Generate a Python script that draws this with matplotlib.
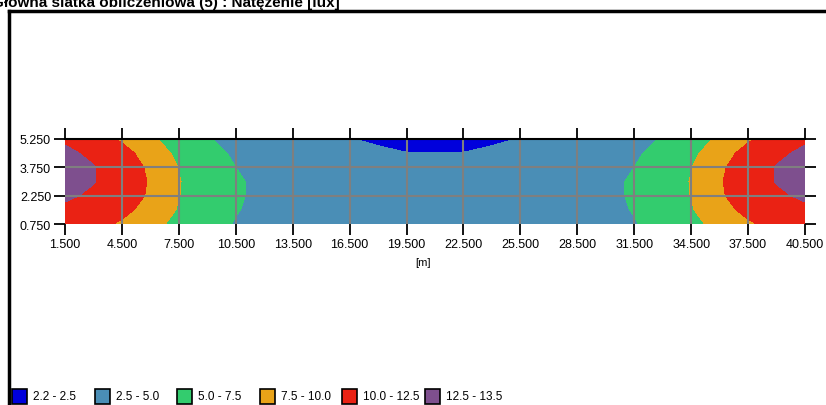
import numpy as np
import matplotlib.pyplot as plt
from matplotlib.patches import Rectangle
from matplotlib.lines import Line2D
from matplotlib.ticker import FormatStrFormatter

plt.rcParams['font.family'] = ['Liberation Sans', 'DejaVu Sans']

# siatka punktow obliczeniowych [m]
x_m = [1.5, 3.0, 4.5, 6.0, 7.5, 9.0, 10.5, 12.0, 13.5, 15.0, 16.5, 18.0, 19.5, 21.0,
       22.5, 24.0, 25.5, 27.0, 28.5, 30.0, 31.5, 33.0, 34.5, 36.0, 37.5, 39.0, 40.5]
y_m = [0.75, 1.5, 2.25, 3.0, 3.75, 4.5, 5.25]

# natezenie [lux], wiersz = y
lux_075 = [11.2, 10.7, 9.7, 8.3, 6.8, 5.6, 4.9, 4.3, 3.9, 3.6, 3.3, 3.1, 3.0, 2.95,
           3.0, 3.1, 3.3, 3.6, 3.9, 4.3, 4.9, 5.6, 6.8, 8.3, 9.7, 10.7, 11.2]
lux_150 = [12.0, 11.3, 10.6, 9.2, 7.3, 6.0, 5.1, 4.5, 4.1, 3.8, 3.5, 3.3, 3.2, 3.15,
           3.2, 3.3, 3.5, 3.8, 4.1, 4.5, 5.1, 6.0, 7.3, 9.2, 10.6, 11.3, 12.0]
lux_225 = [12.9, 12.1, 11.2, 9.7, 7.55, 6.3, 5.2, 4.6, 4.2, 3.9, 3.6, 3.4, 3.3, 3.25,
           3.3, 3.4, 3.6, 3.9, 4.2, 4.6, 5.2, 6.3, 7.55, 9.7, 11.2, 12.1, 12.9]
lux_300 = [13.3, 12.6, 11.4, 9.8, 7.6, 6.3, 5.2, 4.6, 4.2, 3.9, 3.6, 3.4, 3.3, 3.25,
           3.3, 3.4, 3.6, 3.9, 4.2, 4.6, 5.2, 6.3, 7.6, 9.8, 11.4, 12.6, 13.3]
lux_375 = [13.3, 12.6, 11.3, 9.6, 7.45, 6.1, 5.0, 4.5, 4.1, 3.8, 3.5, 3.3, 3.2, 3.15,
           3.2, 3.3, 3.5, 3.8, 4.1, 4.5, 5.0, 6.1, 7.45, 9.6, 11.3, 12.6, 13.3]
lux_450 = [12.9, 12.1, 10.8, 9.0, 6.9, 5.7, 4.7, 4.1, 3.7, 3.4, 3.1, 2.72, 2.52, 2.52,
           2.52, 2.72, 3.1, 3.4, 3.7, 4.1, 4.7, 5.7, 6.9, 9.0, 10.8, 12.1, 12.9]
lux_525 = [12.2, 11.0, 9.7, 8.0, 6.1, 5.15, 4.3, 3.7, 3.3, 2.9, 2.55, 2.3, 2.22, 2.22,
           2.22, 2.3, 2.55, 2.9, 3.3, 3.7, 4.3, 5.15, 6.1, 8.0, 9.7, 11.0, 12.2]

levels = [2.2, 2.5, 5.0, 7.5, 10.0, 12.5, 13.5]
level_labels = ['2.2 - 2.5', '2.5 - 5.0', '5.0 - 7.5', '7.5 - 10.0', '10.0 - 12.5', '12.5 - 13.5']
level_colors = ['#0000DC', '#4A8EB6', '#33CC6E', '#E9A318', '#EA2214', '#7E4F8E']

x_ticks = [1.5, 4.5, 7.5, 10.5, 13.5, 16.5, 19.5, 22.5, 25.5, 28.5, 31.5, 34.5, 37.5, 40.5]
y_ticks = [0.75, 2.25, 3.75, 5.25]

title = 'Główna siatka obliczeniowa (5) : Natężenie [lux]'

W, H = 826, 406
fig = plt.figure(figsize=(W / 100, H / 100), dpi=100)
ax = fig.add_axes([65 / W, 1 - 225 / H, 740 / W, 85 / H])

lux = np.array([lux_075, lux_150, lux_225, lux_300, lux_375, lux_450, lux_525])
ax.contourf(x_m, y_m, lux, levels=levels, colors=level_colors)

ax.set_xlim(1.5, 40.5)
ax.set_ylim(0.75, 5.25)
ax.set_xticks(x_ticks)
ax.set_yticks(y_ticks)
ax.xaxis.set_major_formatter(FormatStrFormatter('%.3f'))
ax.yaxis.set_major_formatter(FormatStrFormatter('%.3f'))
ax.tick_params(direction='out', length=8, width=1.3, top=True, right=True,
               labelsize=9, pad=2, colors='black')

ax.grid(True, color='#7F7F7F', lw=1.5)
for gl in (ax.get_xgridlines(), ax.get_ygridlines()):
    gl[0].set_visible(False)
    gl[-1].set_visible(False)

for s in ['left', 'bottom', 'right']:
    ax.spines[s].set_visible(False)
ax.spines['top'].set_linewidth(1.5)

ax.set_xlabel('[m]', fontsize=8)
ax.xaxis.set_label_coords(0.484, -0.39)

# ramka
fig.add_artist(Line2D([9 / W, 9 / W], [0, 1 - 12 / H], transform=fig.transFigure,
                      color='black', lw=2.5, solid_capstyle='projecting'))
fig.add_artist(Line2D([9 / W, 1], [1 - 12 / H, 1 - 12 / H], transform=fig.transFigure,
                      color='black', lw=2.5, solid_capstyle='projecting'))

# tytul - w oryginale przyciety u gory
fig.text(-8 / W, 1 - 7 / H, title, fontsize=11, fontweight='bold', va='baseline')

# legenda
for i, (lab, col) in enumerate(zip(level_labels, level_colors)):
    x0 = 12 + i * 82.6
    fig.add_artist(Rectangle((x0 / W, 1 / H), 15 / W, 15 / H, transform=fig.transFigure,
                             facecolor=col, edgecolor='black', lw=1.2))
    fig.text((x0 + 21) / W, 1 - 397 / H, lab, fontsize=8.5, va='center')

fig.savefig('out.png', dpi=100)
